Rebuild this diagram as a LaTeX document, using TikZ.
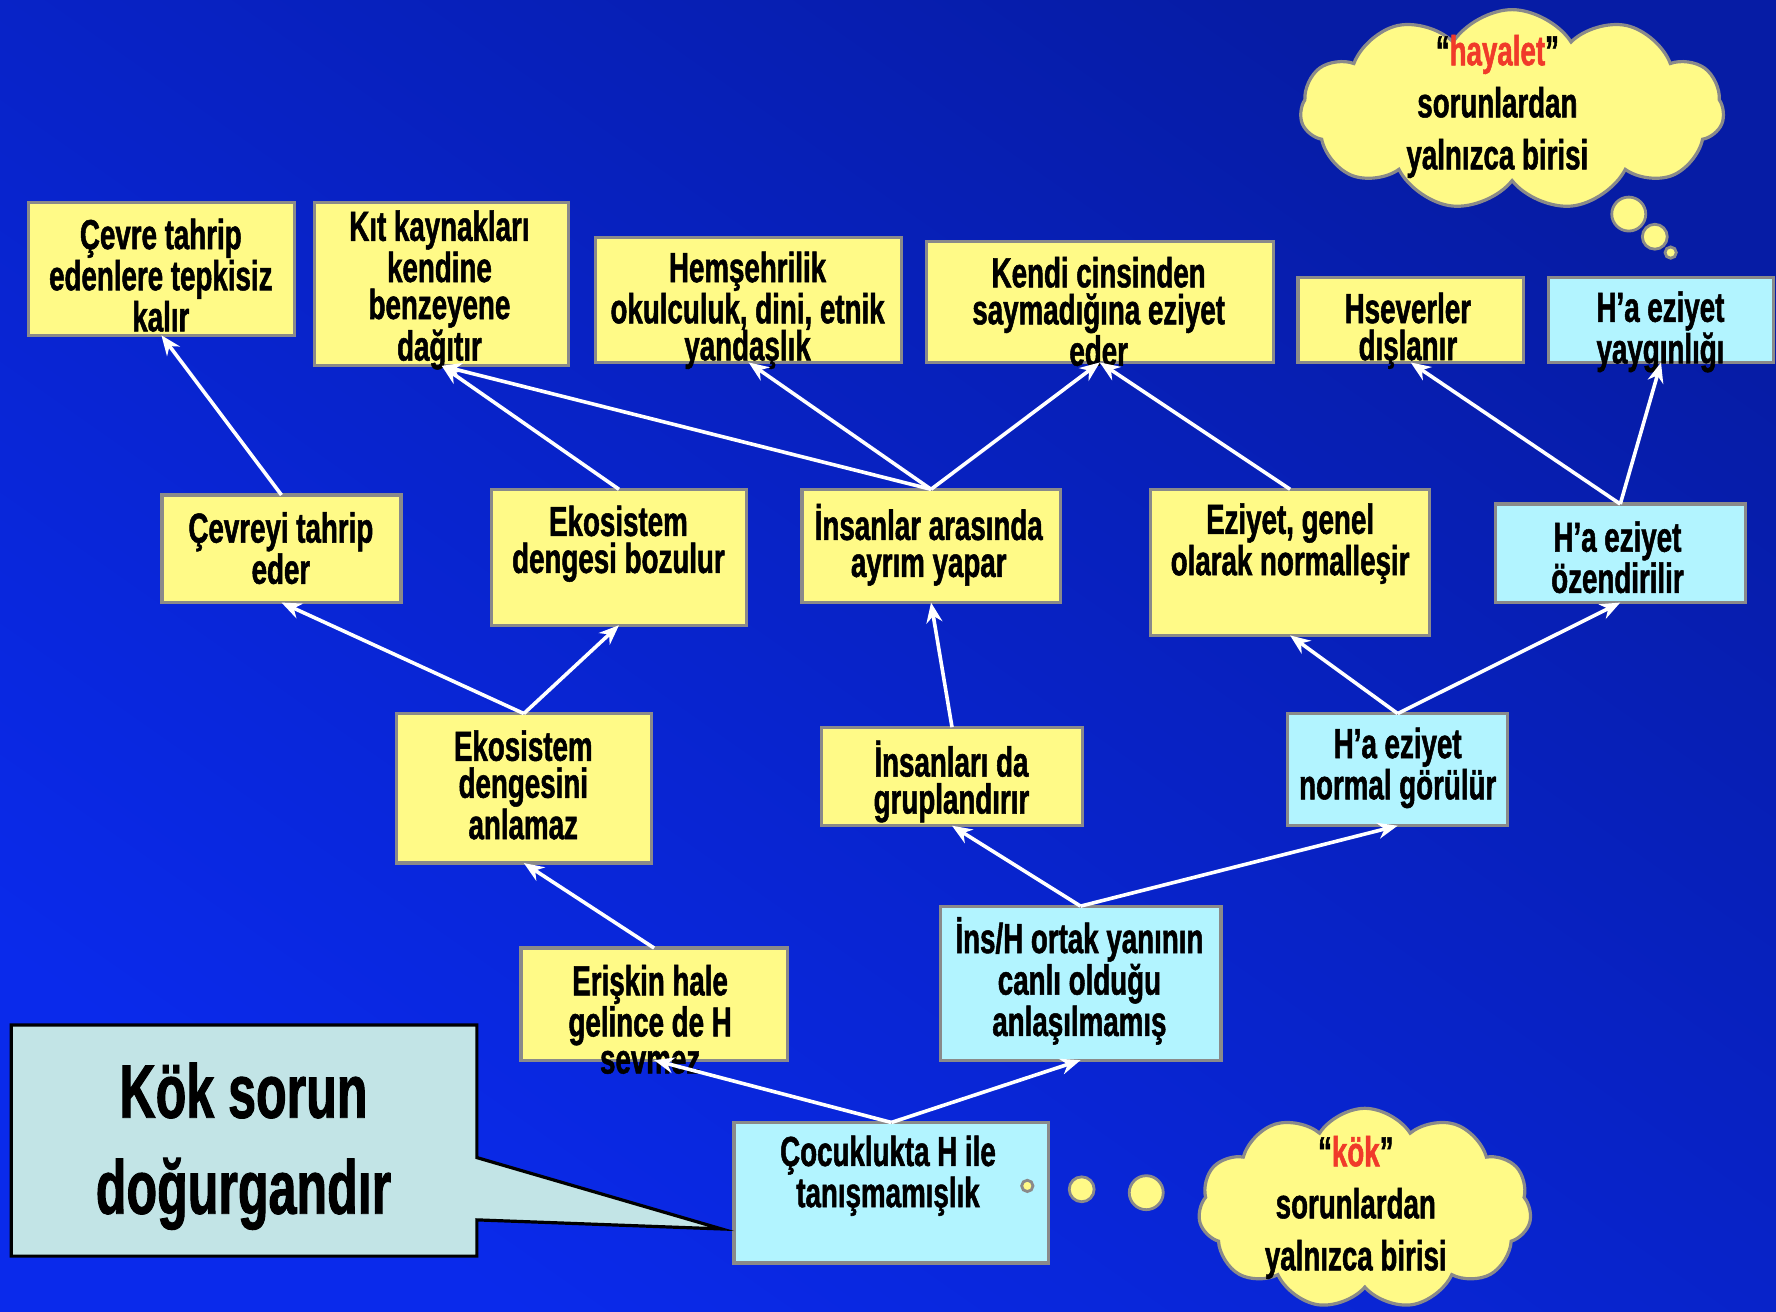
\documentclass[tikz,border=0pt]{standalone}
\usepackage{fontspec}
\usetikzlibrary{arrows.meta,shapes.symbols}
\newfontfamily\cond{Liberation Sans}[UprightFont={* Bold}, BoldFont={* Bold}, FakeStretch=0.66, FakeBold=1.2]
\definecolor{boxyellow}{RGB}{255,250,135}
\definecolor{boxcyan}{RGB}{178,244,255}
\definecolor{boxgray}{RGB}{138,138,138}
\definecolor{calloutfill}{RGB}{194,228,230}
\definecolor{bgdark}{RGB}{6,28,165}
\definecolor{bglight}{RGB}{10,42,235}
\definecolor{ghostred}{RGB}{240,58,42}
\def\pxu{0.56633pt}
\newcommand\mkbox[6]{\node[#6, minimum width={(#4-#2)*\pxu}, minimum height={(#5-#3)*\pxu}] (#1) at ({(#2+#4)/2},{(#3+#5)/2}) {};}
\begin{document}
\begin{tikzpicture}[x=\pxu,y=-\pxu,
  ybox/.style={rectangle, draw=boxgray, line width=1.6pt, fill=boxyellow, inner sep=0pt, outer sep=0pt},
  cbox/.style={ybox, fill=boxcyan},
  txt/.style={font=\cond\fontsize{21}{18.5}\selectfont, align=center, inner sep=0pt, text=black},
  cloudtxt/.style={font=\cond\fontsize{21}{26}\selectfont, align=center, inner sep=0pt, text=black},
  arr/.style={draw=white, line width=1.8pt, -{Stealth[length=10pt,width=8pt]}},
  bubble/.style={circle, draw=boxgray, line width=1.4pt, fill=boxyellow, inner sep=0pt},
  thought/.style={cloud, cloud puffs=11, cloud puff arc=115, aspect=2.1, draw=boxgray, line width=1.6pt, fill=boxyellow, inner sep=0pt}
]
\useasboundingbox (0,0) rectangle (1568,1158);
\shade[top color=bgdark, bottom color=bglight, shading angle=-35] (0,0) rectangle (1568,1158);

% boxes
\mkbox{n1}{25}{179}{260}{296}{ybox}
\mkbox{n2}{278}{179}{502}{323}{ybox}
\mkbox{n3}{526}{210}{796}{320}{ybox}
\mkbox{n4}{818}{213}{1124}{320}{ybox}
\mkbox{n5}{1146}{245}{1345}{320}{ybox}
\mkbox{n6}{1367}{245}{1566}{320}{cbox}
\mkbox{n7}{143}{437}{354}{532}{ybox}
\mkbox{n8}{434}{432}{659}{552}{ybox}
\mkbox{n9}{708}{432}{936}{532}{ybox}
\mkbox{n10}{1016}{432}{1262}{561}{ybox}
\mkbox{n11}{1320}{445}{1541}{532}{cbox}
\mkbox{n12}{350}{630}{575}{762}{ybox}
\mkbox{n13}{725}{642}{956}{729}{ybox}
\mkbox{n14}{1137}{630}{1331}{729}{cbox}
\mkbox{n15}{460}{837}{695}{936}{ybox}
\mkbox{n16}{830}{800}{1078}{936}{cbox}
\mkbox{n17}{648}{991}{926}{1115}{cbox}

% texts
\node[txt] (t1) at (142,243) {Çevre tahrip\\edenlere tepkisiz\\kalır};
\node[txt] (t2) at (388,256) {Kıt kaynakları\\kendine\\benzeyene\\dağıtır};
\node[txt] (t3) at (660,274) {Hemşehrilik\\okulculuk, dini, etnik\\yandaşlık};
\node[txt] (t4) at (970,275) {Kendi cinsinden\\saymadığına eziyet\\eder};
\node[txt] (t5) at (1243,292) {Hseverler\\dışlanır};
\node[txt] (t6) at (1466,293) {H’a eziyet\\yaygınlığı};
\node[txt] (t7) at (248,484) {Çevreyi tahrip\\eder};
\node[txt] (t8) at (546,480) {Ekosistem\\dengesi bozulur};
\node[txt] (t9) at (820,481) {İnsanlar arasında\\ayrım yapar};
\node[txt] (t10) at (1139,480) {Eziyet, genel\\olarak normalleşir};
\node[txt] (t11) at (1428,492) {H’a eziyet\\özendirilir};
\node[txt] (t12) at (462,693) {Ekosistem\\dengesini\\anlamaz};
\node[txt] (t13) at (840,690) {İnsanları da\\gruplandırır};
\node[txt] (t14) at (1234,678) {H’a eziyet\\normal görülür};
\node[txt] (t15) at (574,900) {Erişkin hale\\gelince de H\\sevmez};
\node[txt] (t16) at (953,866) {İns/H ortak yanının\\canlı olduğu\\anlaşılmamış};
\node[txt] (t17) at (784,1038) {Çocuklukta H ile\\tanışmamışlık};

% arrows
\draw[arr] (n7.north) -- (n1.south);
\draw[arr] (n8.north) -- (n2.south);
\draw[arr] (n9.north) -- (n2.south);
\draw[arr] (n9.north) -- (n3.south);
\draw[arr] (n9.north) -- (n4.south);
\draw[arr] (n10.north) -- (n4.south);
\draw[arr] (n11.north) -- (n5.south);
\draw[arr] (n11.north) -- (n6.south);
\draw[arr] (n12.north) -- (n7.south);
\draw[arr] (n12.north) -- (n8.south);
\draw[arr] (n13.north) -- (n9.south);
\draw[arr] (n14.north) -- (n10.south);
\draw[arr] (n14.north) -- (n11.south);
\draw[arr] (n15.north) -- (n12.south);
\draw[arr] (n16.north) -- (n13.south);
\draw[arr] (n16.north) -- (n14.south);
\draw[arr] (n17.north) -- (n15.south);
\draw[arr] (n17.north) -- (n16.south);

% callout
\draw[draw=black, line width=1.6pt, fill=calloutfill] (10,905) -- (421,905) -- (421,1022) -- (637,1085) -- (421,1077) -- (421,1109) -- (10,1109) -- cycle;
\node[font=\cond\fontsize{38}{48}\selectfont, align=center, inner sep=0pt] (ct) at (215,1012) {Kök sorun\\doğurgandır};

% top thought cloud
\node[thought, minimum width={374*\pxu}, minimum height={177*\pxu}] (cl1) at (1335,97) {};
\node[bubble, minimum size={30*\pxu}] (b11) at (1438,189) {};
\node[bubble, minimum size={22*\pxu}] (b12) at (1461,209) {};
\node[bubble, minimum size={10*\pxu}] (b13) at (1475,223) {};
\node[cloudtxt] (ct1) at (1322,94) {“\textcolor{ghostred}{hayalet}”\\sorunlardan\\yalnızca birisi};

% bottom thought cloud
\node[thought, minimum width={294*\pxu}, minimum height={177*\pxu}] (cl2) at (1205,1067) {};
\node[bubble, minimum size={10*\pxu}] (b21) at (907,1047) {};
\node[bubble, minimum size={22*\pxu}] (b22) at (955,1050) {};
\node[bubble, minimum size={30*\pxu}] (b23) at (1012,1053) {};
\node[cloudtxt] (ct2) at (1197,1066) {“\textcolor{ghostred}{kök}”\\sorunlardan\\yalnızca birisi};
\end{tikzpicture}
\end{document}
